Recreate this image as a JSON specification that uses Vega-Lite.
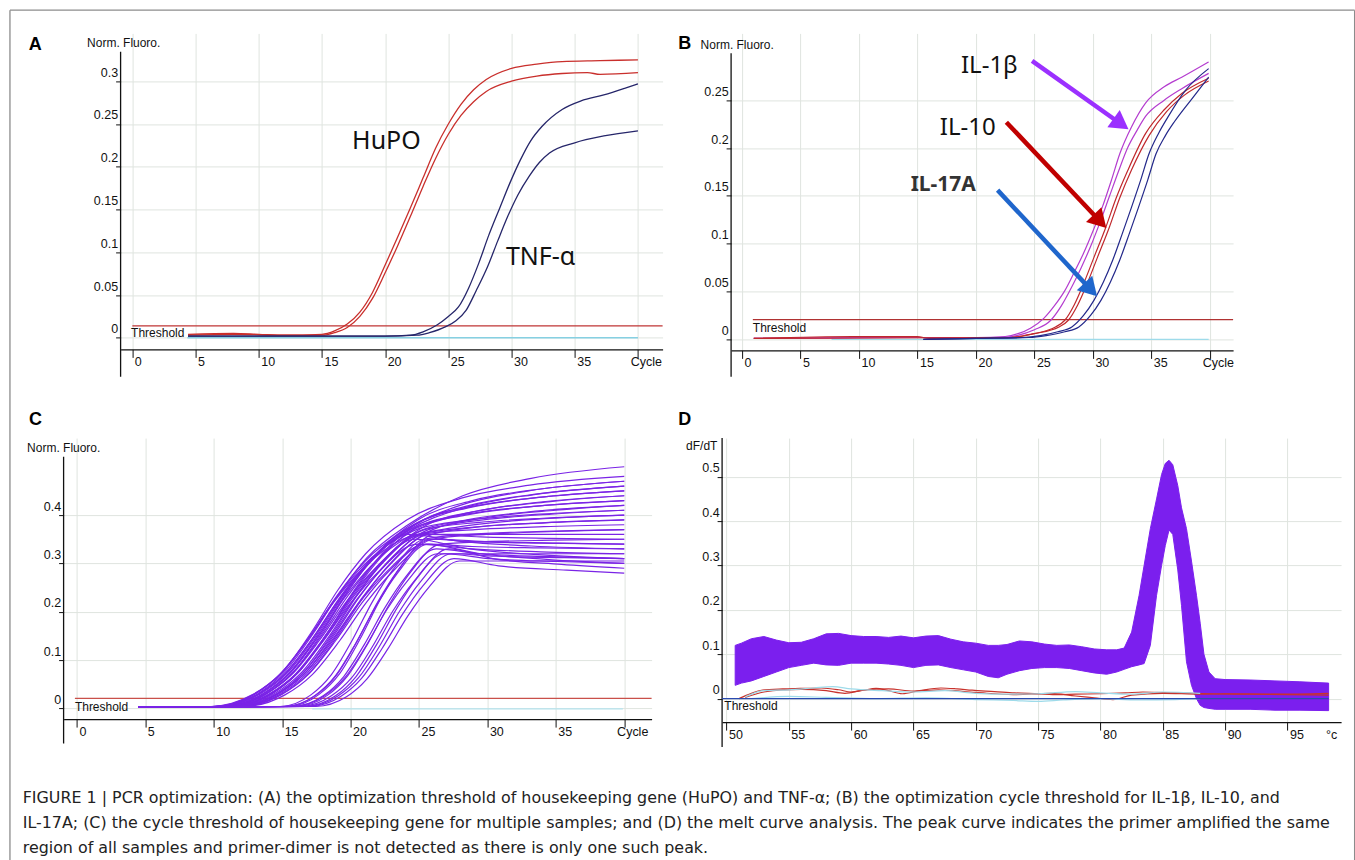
{
"$schema": "https://vega.github.io/schema/vega-lite/v6.json",
"background": "white",
"padding": {"left": 8.6, "top": 9.4, "right": 0, "bottom": 0},
"autosize": {"type": "pad"},
"config": {
  "view": {"stroke": null},
  "axis": {"labelFont": "Liberation Sans", "labelFontSize": 12.5, "labelColor": "#111", "gridColor": "#dfe4df", "gridWidth": 1, "tickColor": "#111", "domainColor": "#111", "titleFont": "Liberation Sans", "titleFontWeight": "normal", "titleFontSize": 12, "titleColor": "#111", "labelFlush": false, "labelOverlap": false},
  "axisX": {"grid": true, "tickSize": 8, "labelBaseline": "top", "labelPadding": -2, "domainWidth": 1.3},
  "axisY": {"grid": true, "domain": false, "tickSize": 5, "labelBaseline": "bottom", "labelPadding": -2, "labelOffset": -2, "titleAngle": 0, "titleAlign": "left", "titleBaseline": "top"},
  "text": {"font": "Liberation Sans"}
},
"bounds": "flush",
"spacing": 404.7,
"vconcat": [
{"bounds": "flush", "spacing": 0, "hconcat": [
  {"width": 57, "height": 20, "data": {"values": [{"x": 0}]}, "mark": {"type": "point", "opacity": 0}},
  {"bounds": "flush", "spacing": 68.5, "hconcat": [
   {
    "width": 542, "height": 316,
    "resolve": {"scale": {"color": "independent"}},
    "encoding": {
      "x": {"field": "x", "type": "quantitative", "scale": {"domain": [-0.93, 41.95], "nice": false, "zero": false},
            "axis": {"values": [0,5,10,15,20,25,30,35,40], "format": "d", "title": null, "labelExpr": "datum.value == 40 ? 'Cycle' : datum.label", "labelAlign": {"condition": {"test": "datum.value == 40", "value": "center"}, "value": "left"}, "labelOffset": {"condition": {"test": "datum.value == 40", "value": 8}, "value": 2}}},
      "y": {"field": "y", "type": "quantitative", "scale": {"domain": [-0.0136, 0.3559], "nice": false, "zero": false},
            "axis": {"values": [0,0.05,0.1,0.15,0.2,0.25,0.3], "format": "~g", "title": "Norm. Fluoro.", "titleX": -34, "titleY": 4}}
    },
    "layer": [
      {"data": {"values": [
         {"k": "frame", "x": -9.684, "x2": 96.7, "y": 0.3831, "y2": 0.3831},
         {"k": "frame", "x": -9.684, "x2": -9.684, "y": 0.3831, "y2": -0.634},
         {"k": "frame", "x": 96.7, "x2": 96.7, "y": 0.3831, "y2": -0.634},
         {"k": "axis", "x": -0.93, "x2": -0.93, "y": 0.3345, "y2": -0.0456},
         {"k": "thr", "x": 0, "x2": 41.95, "y": 0.014, "y2": 0.014},
         {"k": "base", "x": 4.35, "x2": 40, "y": 0, "y2": 0}]},
       "mark": {"type": "rule", "strokeWidth": 1.3},
       "encoding": {"x2": {"field": "x2"}, "y2": {"field": "y2"},
         "color": {"field": "k", "type": "nominal", "scale": {"domain": ["frame","axis","thr","base"], "range": ["#8c8c8c","#111111","#bf3535","#86d0e2"]}, "legend": null}}},
      {"data": {"values": [
         {"s":"h1","x":4.4,"y":0.004},{"s":"h1","x":8,"y":0.005},{"s":"h1","x":10,"y":0.004},{"s":"h1","x":12,"y":0.003},{"s":"h1","x":15,"y":0.004},{"s":"h1","x":16,"y":0.008},{"s":"h1","x":17,"y":0.016},{"s":"h1","x":18,"y":0.03},{"s":"h1","x":19,"y":0.053},{"s":"h1","x":20,"y":0.085},{"s":"h1","x":21,"y":0.118},{"s":"h1","x":22,"y":0.152},{"s":"h1","x":23,"y":0.187},{"s":"h1","x":24,"y":0.222},{"s":"h1","x":25,"y":0.25},{"s":"h1","x":26,"y":0.273},{"s":"h1","x":27,"y":0.29},{"s":"h1","x":28,"y":0.302},{"s":"h1","x":30,"y":0.315},{"s":"h1","x":32,"y":0.32},{"s":"h1","x":34,"y":0.323},{"s":"h1","x":37,"y":0.324},{"s":"h1","x":40,"y":0.325},
         {"s":"h2","x":4.4,"y":0.003},{"s":"h2","x":8,"y":0.004},{"s":"h2","x":12,"y":0.003},{"s":"h2","x":15,"y":0.003},{"s":"h2","x":16,"y":0.006},{"s":"h2","x":17,"y":0.012},{"s":"h2","x":18,"y":0.025},{"s":"h2","x":19,"y":0.046},{"s":"h2","x":20,"y":0.076},{"s":"h2","x":21,"y":0.108},{"s":"h2","x":22,"y":0.142},{"s":"h2","x":23,"y":0.177},{"s":"h2","x":24,"y":0.21},{"s":"h2","x":25,"y":0.238},{"s":"h2","x":26,"y":0.26},{"s":"h2","x":27,"y":0.276},{"s":"h2","x":28,"y":0.288},{"s":"h2","x":30,"y":0.3},{"s":"h2","x":32,"y":0.306},{"s":"h2","x":34,"y":0.309},{"s":"h2","x":36,"y":0.31},{"s":"h2","x":37,"y":0.308},{"s":"h2","x":40,"y":0.31},
         {"s":"t1","x":4.4,"y":0.002},{"s":"t1","x":10,"y":0.002},{"s":"t1","x":15,"y":0.002},{"s":"t1","x":20,"y":0.002},{"s":"t1","x":22,"y":0.003},{"s":"t1","x":23,"y":0.007},{"s":"t1","x":24.1,"y":0.015},{"s":"t1","x":25,"y":0.025},{"s":"t1","x":25.8,"y":0.036},{"s":"t1","x":26.6,"y":0.058},{"s":"t1","x":27.4,"y":0.087},{"s":"t1","x":28.2,"y":0.12},{"s":"t1","x":29.1,"y":0.153},{"s":"t1","x":29.9,"y":0.182},{"s":"t1","x":30.7,"y":0.208},{"s":"t1","x":31.5,"y":0.23},{"s":"t1","x":32.4,"y":0.247},{"s":"t1","x":34,"y":0.267},{"s":"t1","x":35.5,"y":0.277},{"s":"t1","x":37.3,"y":0.284},{"s":"t1","x":39,"y":0.292},{"s":"t1","x":40,"y":0.297},
         {"s":"t2","x":4.4,"y":0.002},{"s":"t2","x":10,"y":0.002},{"s":"t2","x":15,"y":0.002},{"s":"t2","x":20,"y":0.002},{"s":"t2","x":22.5,"y":0.003},{"s":"t2","x":23.5,"y":0.006},{"s":"t2","x":24.8,"y":0.013},{"s":"t2","x":25.6,"y":0.02},{"s":"t2","x":26.4,"y":0.032},{"s":"t2","x":27.2,"y":0.055},{"s":"t2","x":28.1,"y":0.083},{"s":"t2","x":28.9,"y":0.113},{"s":"t2","x":29.7,"y":0.142},{"s":"t2","x":30.5,"y":0.167},{"s":"t2","x":31.4,"y":0.189},{"s":"t2","x":32.2,"y":0.205},{"s":"t2","x":33,"y":0.216},{"s":"t2","x":35,"y":0.228},{"s":"t2","x":37.3,"y":0.236},{"s":"t2","x":40,"y":0.242}]},
       "mark": {"type": "line", "strokeWidth": 1.3, "interpolate": "monotone"},
       "encoding": {"detail": {"field": "s"}, "color": {"field": "s", "type": "nominal", "scale": {"domain": ["h1","h2","t1","t2"], "range": ["#c92f2c","#c92f2c","#26266a","#26266a"]}, "legend": null}}},
      {"data": {"values": [{"t": "HuPO", "x": 20.1, "y": 0.23}, {"t": "TNF-α", "x": 32.3, "y": 0.094}]},
       "mark": {"type": "text", "font": "Noto Sans", "fontSize": 25, "color": "#111", "align": "center", "baseline": "middle"},
       "encoding": {"text": {"field": "t"}}},
      {"data": {"values": [{"t": "Threshold", "x": -0.1, "y": 0.005}]},
       "mark": {"type": "text", "fontSize": 12, "color": "#111", "align": "left", "baseline": "middle"},
       "encoding": {"text": {"field": "t"}}},
      {"data": {"values": [{"t": "A", "x": -8.2, "y": 0.342}]},
       "mark": {"type": "text", "fontSize": 18, "fontWeight": "bold", "color": "#000", "align": "left", "baseline": "middle"},
       "encoding": {"text": {"field": "t"}}}
    ]
   },
   {
    "width": 502, "height": 317,
    "resolve": {"scale": {"color": "independent"}},
    "encoding": {
      "x": {"field": "x", "type": "quantitative", "scale": {"domain": [-0.94, 41.99], "nice": false, "zero": false},
            "axis": {"values": [0,5,10,15,20,25,30,35,40], "format": "d", "title": null, "labelExpr": "datum.value == 40 ? 'Cycle' : datum.label", "labelAlign": {"condition": {"test": "datum.value == 40", "value": "center"}, "value": "left"}, "labelOffset": {"condition": {"test": "datum.value == 40", "value": 8}, "value": 2}}},
      "y": {"field": "y", "type": "quantitative", "scale": {"domain": [-0.0115, 0.3198], "nice": false, "zero": false},
            "axis": {"values": [0,0.05,0.1,0.15,0.2,0.25], "format": "~g", "title": "Norm. Fluoro.", "titleX": -31, "titleY": 6}}
    },
    "layer": [
      {"data": {"values": [
         {"k": "axis", "x": -0.94, "x2": -0.94, "y": 0.299, "y2": -0.039},
         {"k": "thr", "x": 0.92, "x2": 41.99, "y": 0.0206, "y2": 0.0206},
         {"k": "base", "x": 7.65, "x2": 39.9, "y": 0, "y2": 0}]},
       "mark": {"type": "rule", "strokeWidth": 1.3},
       "encoding": {"x2": {"field": "x2"}, "y2": {"field": "y2"},
         "color": {"field": "k", "type": "nominal", "scale": {"domain": ["axis","thr","base"], "range": ["#111111","#b03232","#9edbea"]}, "legend": null}}},
      {"data": {"values": [
         {"s":"b1","x":1,"y":0.001},{"s":"b1","x":10,"y":0.002},{"s":"b1","x":15,"y":0.002},{"s":"b1","x":20,"y":0.002},{"s":"b1","x":22.5,"y":0.003},{"s":"b1","x":23.6,"y":0.006},{"s":"b1","x":24.7,"y":0.012},{"s":"b1","x":25.8,"y":0.022},{"s":"b1","x":26.7,"y":0.035},{"s":"b1","x":27.6,"y":0.051},{"s":"b1","x":28.4,"y":0.07},{"s":"b1","x":29.2,"y":0.09},{"s":"b1","x":30,"y":0.113},{"s":"b1","x":30.8,"y":0.138},{"s":"b1","x":31.6,"y":0.167},{"s":"b1","x":32.3,"y":0.194},{"s":"b1","x":33.3,"y":0.222},{"s":"b1","x":34.5,"y":0.247},{"s":"b1","x":36.1,"y":0.264},{"s":"b1","x":37.6,"y":0.274},{"s":"b1","x":39.9,"y":0.29},
         {"s":"b2","x":1,"y":0.001},{"s":"b2","x":15,"y":0.002},{"s":"b2","x":22,"y":0.002},{"s":"b2","x":23.5,"y":0.004},{"s":"b2","x":25,"y":0.01},{"s":"b2","x":26.4,"y":0.02},{"s":"b2","x":27.3,"y":0.035},{"s":"b2","x":28.2,"y":0.055},{"s":"b2","x":29,"y":0.075},{"s":"b2","x":29.8,"y":0.097},{"s":"b2","x":30.6,"y":0.122},{"s":"b2","x":31.4,"y":0.149},{"s":"b2","x":32.2,"y":0.176},{"s":"b2","x":33,"y":0.201},{"s":"b2","x":33.8,"y":0.219},{"s":"b2","x":34.5,"y":0.233},{"s":"b2","x":36.1,"y":0.25},{"s":"b2","x":37.6,"y":0.262},{"s":"b2","x":39.9,"y":0.278},
         {"s":"r1","x":1,"y":0.001},{"s":"r1","x":9.5,"y":0.003},{"s":"r1","x":15,"y":0.003},{"s":"r1","x":16,"y":0.001},{"s":"r1","x":23,"y":0.002},{"s":"r1","x":24.5,"y":0.005},{"s":"r1","x":26,"y":0.009},{"s":"r1","x":26.8,"y":0.013},{"s":"r1","x":27.6,"y":0.02},{"s":"r1","x":28.4,"y":0.036},{"s":"r1","x":29.2,"y":0.058},{"s":"r1","x":30.1,"y":0.086},{"s":"r1","x":31.1,"y":0.117},{"s":"r1","x":32,"y":0.148},{"s":"r1","x":33,"y":0.177},{"s":"r1","x":34.5,"y":0.215},{"s":"r1","x":36.1,"y":0.24},{"s":"r1","x":37.6,"y":0.257},{"s":"r1","x":39.9,"y":0.273},
         {"s":"r2","x":1,"y":0.001},{"s":"r2","x":23,"y":0.002},{"s":"r2","x":25,"y":0.006},{"s":"r2","x":27.1,"y":0.013},{"s":"r2","x":27.9,"y":0.02},{"s":"r2","x":28.7,"y":0.036},{"s":"r2","x":29.5,"y":0.058},{"s":"r2","x":30.4,"y":0.086},{"s":"r2","x":31.4,"y":0.117},{"s":"r2","x":32.3,"y":0.148},{"s":"r2","x":33.3,"y":0.177},{"s":"r2","x":34.8,"y":0.213},{"s":"r2","x":36.3,"y":0.238},{"s":"r2","x":37.8,"y":0.255},{"s":"r2","x":39.9,"y":0.27},
         {"s":"n1","x":15.5,"y":0},{"s":"n1","x":20,"y":0.001},{"s":"n1","x":24,"y":0.002},{"s":"n1","x":25.5,"y":0.004},{"s":"n1","x":27,"y":0.008},{"s":"n1","x":28.2,"y":0.013},{"s":"n1","x":29.2,"y":0.025},{"s":"n1","x":30.1,"y":0.041},{"s":"n1","x":30.9,"y":0.06},{"s":"n1","x":31.7,"y":0.083},{"s":"n1","x":32.5,"y":0.11},{"s":"n1","x":33.3,"y":0.138},{"s":"n1","x":34.1,"y":0.167},{"s":"n1","x":34.8,"y":0.194},{"s":"n1","x":35.6,"y":0.215},{"s":"n1","x":36.4,"y":0.232},{"s":"n1","x":37.9,"y":0.26},{"s":"n1","x":39.9,"y":0.283},
         {"s":"n2","x":15.5,"y":0},{"s":"n2","x":20,"y":0.001},{"s":"n2","x":24.5,"y":0.002},{"s":"n2","x":26,"y":0.004},{"s":"n2","x":27.6,"y":0.008},{"s":"n2","x":28.8,"y":0.013},{"s":"n2","x":29.8,"y":0.025},{"s":"n2","x":30.7,"y":0.041},{"s":"n2","x":31.5,"y":0.06},{"s":"n2","x":32.3,"y":0.083},{"s":"n2","x":33.1,"y":0.11},{"s":"n2","x":33.9,"y":0.138},{"s":"n2","x":34.7,"y":0.167},{"s":"n2","x":35.4,"y":0.194},{"s":"n2","x":36.2,"y":0.213},{"s":"n2","x":37,"y":0.228},{"s":"n2","x":38.5,"y":0.252},{"s":"n2","x":39.9,"y":0.274}]},
       "mark": {"type": "line", "strokeWidth": 1.2, "interpolate": "monotone"},
       "encoding": {"detail": {"field": "s"}, "color": {"field": "s", "type": "nominal", "scale": {"domain": ["b1","b2","r1","r2","n1","n2"], "range": ["#b43ccf","#b43ccf","#c0282c","#c0282c","#23288a","#23288a"]}, "legend": null}}},
      {"data": {"values": [
         {"k": "b", "x": 24.8, "y": 0.291, "x2": 32.405, "y2": 0.2251},
         {"k": "r", "x": 22.6, "y": 0.227, "x2": 30.61, "y2": 0.1234},
         {"k": "n", "x": 21.85, "y": 0.156, "x2": 29.82, "y2": 0.052}]},
       "mark": {"type": "rule", "strokeWidth": 4.5},
       "encoding": {"x2": {"field": "x2"}, "y2": {"field": "y2"},
         "color": {"field": "k", "type": "nominal", "scale": {"domain": ["b","r","n"], "range": ["#9b30ff","#c00000","#1f66cc"]}, "legend": null}}},
      {"data": {"values": [{"x": 32.405, "y": 0.2251}]},
       "mark": {"type": "point", "shape": "triangle-right", "filled": true, "size": 450, "angle": 35.6, "color": "#9b30ff", "opacity": 1}},
      {"data": {"values": [{"x": 30.61, "y": 0.1234}]},
       "mark": {"type": "point", "shape": "triangle-right", "filled": true, "size": 450, "angle": 46.7, "color": "#c00000", "opacity": 1}},
      {"data": {"values": [{"x": 29.82, "y": 0.052}]},
       "mark": {"type": "point", "shape": "triangle-right", "filled": true, "size": 450, "angle": 46.9, "color": "#1f66cc", "opacity": 1}},
      {"data": {"values": [{"t": "IL-1β", "x": 21.15, "y": 0.286}, {"t": "IL-10", "x": 19.3, "y": 0.2214}]},
       "mark": {"type": "text", "font": "Noto Sans", "fontSize": 24, "color": "#111", "align": "center", "baseline": "middle"},
       "encoding": {"text": {"field": "t"}}},
      {"data": {"values": [{"t": "IL-17A", "x": 17.2, "y": 0.161}]},
       "mark": {"type": "text", "font": "Noto Sans", "fontSize": 21, "fontWeight": "bold", "color": "#333", "align": "center", "baseline": "middle"},
       "encoding": {"text": {"field": "t"}}},
      {"data": {"values": [{"t": "Threshold", "x": 0.92, "y": 0.0122}]},
       "mark": {"type": "text", "fontSize": 12, "color": "#111", "align": "left", "baseline": "middle"},
       "encoding": {"text": {"field": "t"}}},
      {"data": {"values": [{"t": "B", "x": -5.47, "y": 0.309}]},
       "mark": {"type": "text", "fontSize": 18, "fontWeight": "bold", "color": "#000", "align": "left", "baseline": "middle"},
       "encoding": {"text": {"field": "t"}}}
    ]
   }
  ]}
]},
{"bounds": "flush", "spacing": 70.5, "hconcat": [
  {
    "width": 588, "height": 281,
    "encoding": {
      "x": {"field": "x", "type": "quantitative", "scale": {"domain": [-0.975, 42.0], "nice": false, "zero": false},
            "axis": {"values": [0,5,10,15,20,25,30,35,40], "format": "d", "title": null, "labelExpr": "datum.value == 40 ? 'Cycle' : datum.label", "labelAlign": {"condition": {"test": "datum.value == 40", "value": "center"}, "value": "left"}, "labelOffset": {"condition": {"test": "datum.value == 40", "value": 8}, "value": 2}}},
      "y": {"field": "y", "type": "quantitative", "scale": {"domain": [-0.0221, 0.5593], "nice": false, "zero": false},
            "axis": {"values": [0,0.1,0.2,0.3,0.4], "format": "~g", "title": "Norm. Fluoro.", "titleX": -37, "titleY": 4}}
    },
    "resolve": {"scale": {"color": "independent"}},
    "layer": [
      {"data": {"values": [
         {"k": "axis", "x": -0.975, "x2": -0.975, "y": 0.5206, "y2": -0.0724},
         {"k": "thr", "x": -0.15, "x2": 42.0, "y": 0.0207, "y2": 0.0207},
         {"k": "base", "x": 17.2, "x2": 39.9, "y": -0.001, "y2": -0.001}]},
       "mark": {"type": "rule", "strokeWidth": 1.3},
       "encoding": {"x2": {"field": "x2"}, "y2": {"field": "y2"},
         "color": {"field": "k", "type": "nominal", "scale": {"domain": ["axis","thr","base"], "range": ["#111111","#c9504a","#b5e3ee"]}, "legend": null}}},
      {"data": {"values": [
{"s":"c1","x":4.5,"y":0.003},{"s":"c1","x":9.9,"y":0.004},{"s":"c1","x":12.9,"y":0.029},{"s":"c1","x":14.9,"y":0.072},{"s":"c1","x":16.9,"y":0.144},{"s":"c1","x":18.9,"y":0.227},{"s":"c1","x":20.9,"y":0.295},{"s":"c1","x":23.9,"y":0.36},{"s":"c1","x":27.9,"y":0.4},{"s":"c1","x":32.9,"y":0.424},{"s":"c1","x":40,"y":0.44},
{"s":"c2","x":4.5,"y":0.003},{"s":"c2","x":10,"y":0.004},{"s":"c2","x":13,"y":0.03},{"s":"c2","x":15,"y":0.074},{"s":"c2","x":17,"y":0.148},{"s":"c2","x":19,"y":0.233},{"s":"c2","x":21,"y":0.303},{"s":"c2","x":24,"y":0.37},{"s":"c2","x":28,"y":0.42},{"s":"c2","x":33,"y":0.45},{"s":"c2","x":40,"y":0.47},
{"s":"c3","x":4.5,"y":0.003},{"s":"c3","x":10.2,"y":0.004},{"s":"c3","x":13.2,"y":0.03},{"s":"c3","x":15.2,"y":0.076},{"s":"c3","x":17.2,"y":0.152},{"s":"c3","x":19.2,"y":0.239},{"s":"c3","x":21.2,"y":0.312},{"s":"c3","x":24.2,"y":0.38},{"s":"c3","x":28.2,"y":0.44},{"s":"c3","x":33.2,"y":0.476},{"s":"c3","x":40,"y":0.5},
{"s":"c4","x":4.5,"y":0.003},{"s":"c4","x":10.3,"y":0.004},{"s":"c4","x":13.3,"y":0.03},{"s":"c4","x":15.3,"y":0.074},{"s":"c4","x":17.3,"y":0.148},{"s":"c4","x":19.3,"y":0.233},{"s":"c4","x":21.3,"y":0.303},{"s":"c4","x":24.3,"y":0.37},{"s":"c4","x":28.3,"y":0.415},{"s":"c4","x":33.3,"y":0.442},{"s":"c4","x":40,"y":0.46},
{"s":"c5","x":4.5,"y":0.003},{"s":"c5","x":10.5,"y":0.004},{"s":"c5","x":13.5,"y":0.029},{"s":"c5","x":15.5,"y":0.072},{"s":"c5","x":17.5,"y":0.144},{"s":"c5","x":19.5,"y":0.227},{"s":"c5","x":21.5,"y":0.295},{"s":"c5","x":24.5,"y":0.36},{"s":"c5","x":28.5,"y":0.39},{"s":"c5","x":33.5,"y":0.408},{"s":"c5","x":40,"y":0.42},
{"s":"c6","x":4.5,"y":0.003},{"s":"c6","x":10.6,"y":0.004},{"s":"c6","x":13.6,"y":0.03},{"s":"c6","x":15.6,"y":0.076},{"s":"c6","x":17.6,"y":0.152},{"s":"c6","x":19.6,"y":0.239},{"s":"c6","x":21.6,"y":0.312},{"s":"c6","x":24.6,"y":0.38},{"s":"c6","x":28.6,"y":0.415},{"s":"c6","x":33.6,"y":0.436},{"s":"c6","x":40,"y":0.45},
{"s":"c7","x":4.5,"y":0.003},{"s":"c7","x":10.8,"y":0.004},{"s":"c7","x":13.8,"y":0.03},{"s":"c7","x":15.8,"y":0.074},{"s":"c7","x":17.8,"y":0.148},{"s":"c7","x":19.8,"y":0.233},{"s":"c7","x":21.8,"y":0.303},{"s":"c7","x":24.8,"y":0.37},{"s":"c7","x":28.8,"y":0.39},{"s":"c7","x":33.8,"y":0.402},{"s":"c7","x":40,"y":0.41},
{"s":"c8","x":4.5,"y":0.003},{"s":"c8","x":10.9,"y":0.004},{"s":"c8","x":13.9,"y":0.031},{"s":"c8","x":15.9,"y":0.078},{"s":"c8","x":17.9,"y":0.156},{"s":"c8","x":19.9,"y":0.246},{"s":"c8","x":21.9,"y":0.32},{"s":"c8","x":24.9,"y":0.39},{"s":"c8","x":28.9,"y":0.43},{"s":"c8","x":33.9,"y":0.454},{"s":"c8","x":40,"y":0.47},
{"s":"c9","x":4.5,"y":0.003},{"s":"c9","x":11.1,"y":0.004},{"s":"c9","x":14.1,"y":0.029},{"s":"c9","x":16.1,"y":0.072},{"s":"c9","x":18.1,"y":0.144},{"s":"c9","x":20.1,"y":0.227},{"s":"c9","x":22.1,"y":0.295},{"s":"c9","x":25.1,"y":0.36},{"s":"c9","x":29.1,"y":0.37},{"s":"c9","x":34.1,"y":0.376},{"s":"c9","x":40,"y":0.38},
{"s":"c10","x":4.5,"y":0.003},{"s":"c10","x":11.2,"y":0.004},{"s":"c10","x":14.2,"y":0.03},{"s":"c10","x":16.2,"y":0.076},{"s":"c10","x":18.2,"y":0.152},{"s":"c10","x":20.2,"y":0.239},{"s":"c10","x":22.2,"y":0.312},{"s":"c10","x":25.2,"y":0.38},{"s":"c10","x":29.2,"y":0.405},{"s":"c10","x":34.2,"y":0.42},{"s":"c10","x":40,"y":0.43},
{"s":"c11","x":4.5,"y":0.003},{"s":"c11","x":11.4,"y":0.004},{"s":"c11","x":14.4,"y":0.03},{"s":"c11","x":16.4,"y":0.074},{"s":"c11","x":18.4,"y":0.148},{"s":"c11","x":20.4,"y":0.233},{"s":"c11","x":22.4,"y":0.303},{"s":"c11","x":25.4,"y":0.37},{"s":"c11","x":29.4,"y":0.385},{"s":"c11","x":34.4,"y":0.394},{"s":"c11","x":40,"y":0.4},
{"s":"c12","x":4.5,"y":0.003},{"s":"c12","x":11.6,"y":0.004},{"s":"c12","x":14.6,"y":0.03},{"s":"c12","x":16.6,"y":0.076},{"s":"c12","x":18.6,"y":0.152},{"s":"c12","x":20.6,"y":0.239},{"s":"c12","x":22.6,"y":0.312},{"s":"c12","x":25.6,"y":0.38},{"s":"c12","x":29.6,"y":0.41},{"s":"c12","x":34.6,"y":0.428},{"s":"c12","x":40,"y":0.44},
{"s":"c13","x":4.5,"y":0.003},{"s":"c13","x":11.8,"y":0.004},{"s":"c13","x":14.8,"y":0.029},{"s":"c13","x":16.8,"y":0.072},{"s":"c13","x":18.8,"y":0.144},{"s":"c13","x":20.8,"y":0.227},{"s":"c13","x":22.8,"y":0.295},{"s":"c13","x":25.8,"y":0.36},{"s":"c13","x":29.8,"y":0.36},{"s":"c13","x":34.8,"y":0.36},{"s":"c13","x":40,"y":0.36},
{"s":"c14","x":4.5,"y":0.003},{"s":"c14","x":12,"y":0.004},{"s":"c14","x":15,"y":0.03},{"s":"c14","x":17,"y":0.074},{"s":"c14","x":19,"y":0.148},{"s":"c14","x":21,"y":0.233},{"s":"c14","x":23,"y":0.303},{"s":"c14","x":26,"y":0.37},{"s":"c14","x":30,"y":0.395},{"s":"c14","x":35,"y":0.41},{"s":"c14","x":40,"y":0.42},
{"s":"c15","x":4.5,"y":0.003},{"s":"c15","x":12.2,"y":0.004},{"s":"c15","x":15.2,"y":0.028},{"s":"c15","x":17.2,"y":0.07},{"s":"c15","x":19.2,"y":0.14},{"s":"c15","x":21.2,"y":0.221},{"s":"c15","x":23.2,"y":0.287},{"s":"c15","x":26.2,"y":0.35},{"s":"c15","x":30.2,"y":0.345},{"s":"c15","x":35.2,"y":0.342},{"s":"c15","x":40,"y":0.34},
{"s":"c16","x":4.5,"y":0.003},{"s":"c16","x":10.7,"y":0.004},{"s":"c16","x":13.7,"y":0.028},{"s":"c16","x":15.7,"y":0.07},{"s":"c16","x":17.7,"y":0.14},{"s":"c16","x":19.7,"y":0.221},{"s":"c16","x":21.7,"y":0.287},{"s":"c16","x":24.7,"y":0.35},{"s":"c16","x":28.7,"y":0.33},{"s":"c16","x":33.7,"y":0.318},{"s":"c16","x":40,"y":0.31},
{"s":"c17","x":4.5,"y":0.003},{"s":"c17","x":11.5,"y":0.004},{"s":"c17","x":14.5,"y":0.027},{"s":"c17","x":16.5,"y":0.068},{"s":"c17","x":18.5,"y":0.136},{"s":"c17","x":20.5,"y":0.214},{"s":"c17","x":22.5,"y":0.279},{"s":"c17","x":25.5,"y":0.34},{"s":"c17","x":29.5,"y":0.32},{"s":"c17","x":34.5,"y":0.308},{"s":"c17","x":40,"y":0.3},
{"s":"c18","x":4.5,"y":0.003},{"s":"c18","x":14.85,"y":0.004},{"s":"c18","x":17.1,"y":0.028},{"s":"c18","x":18.6,"y":0.07},{"s":"c18","x":20.1,"y":0.14},{"s":"c18","x":21.6,"y":0.221},{"s":"c18","x":23.1,"y":0.287},{"s":"c18","x":25.35,"y":0.35},{"s":"c18","x":28.6,"y":0.36},{"s":"c18","x":33.6,"y":0.366},{"s":"c18","x":40,"y":0.37},
{"s":"c19","x":4.5,"y":0.003},{"s":"c19","x":15.15,"y":0.004},{"s":"c19","x":17.4,"y":0.027},{"s":"c19","x":18.9,"y":0.068},{"s":"c19","x":20.4,"y":0.136},{"s":"c19","x":21.9,"y":0.214},{"s":"c19","x":23.4,"y":0.279},{"s":"c19","x":25.65,"y":0.34},{"s":"c19","x":28.9,"y":0.335},{"s":"c19","x":33.9,"y":0.332},{"s":"c19","x":40,"y":0.33},
{"s":"c20","x":4.5,"y":0.003},{"s":"c20","x":15.45,"y":0.004},{"s":"c20","x":17.7,"y":0.029},{"s":"c20","x":19.2,"y":0.072},{"s":"c20","x":20.7,"y":0.144},{"s":"c20","x":22.2,"y":0.227},{"s":"c20","x":23.7,"y":0.295},{"s":"c20","x":25.95,"y":0.36},{"s":"c20","x":29.2,"y":0.375},{"s":"c20","x":34.2,"y":0.384},{"s":"c20","x":40,"y":0.39},
{"s":"c21","x":4.5,"y":0.003},{"s":"c21","x":15.75,"y":0.004},{"s":"c21","x":18,"y":0.026},{"s":"c21","x":19.5,"y":0.066},{"s":"c21","x":21,"y":0.132},{"s":"c21","x":22.5,"y":0.208},{"s":"c21","x":24,"y":0.271},{"s":"c21","x":26.25,"y":0.33},{"s":"c21","x":29.5,"y":0.32},{"s":"c21","x":34.5,"y":0.314},{"s":"c21","x":40,"y":0.31},
{"s":"c22","x":4.5,"y":0.003},{"s":"c22","x":16.05,"y":0.004},{"s":"c22","x":18.3,"y":0.027},{"s":"c22","x":19.8,"y":0.068},{"s":"c22","x":21.3,"y":0.136},{"s":"c22","x":22.8,"y":0.214},{"s":"c22","x":24.3,"y":0.279},{"s":"c22","x":26.55,"y":0.34},{"s":"c22","x":29.8,"y":0.345},{"s":"c22","x":34.8,"y":0.348},{"s":"c22","x":40,"y":0.35},
{"s":"c23","x":4.5,"y":0.003},{"s":"c23","x":16.35,"y":0.004},{"s":"c23","x":18.6,"y":0.026},{"s":"c23","x":20.1,"y":0.064},{"s":"c23","x":21.6,"y":0.128},{"s":"c23","x":23.1,"y":0.202},{"s":"c23","x":24.6,"y":0.262},{"s":"c23","x":26.85,"y":0.32},{"s":"c23","x":30.1,"y":0.31},{"s":"c23","x":35.1,"y":0.304},{"s":"c23","x":40,"y":0.3},
{"s":"c24","x":4.5,"y":0.003},{"s":"c24","x":16.65,"y":0.004},{"s":"c24","x":18.9,"y":0.026},{"s":"c24","x":20.4,"y":0.066},{"s":"c24","x":21.9,"y":0.132},{"s":"c24","x":23.4,"y":0.208},{"s":"c24","x":24.9,"y":0.271},{"s":"c24","x":27.15,"y":0.33},{"s":"c24","x":30.4,"y":0.31},{"s":"c24","x":35.4,"y":0.298},{"s":"c24","x":40,"y":0.29},
{"s":"c25","x":4.5,"y":0.003},{"s":"c25","x":17.05,"y":0.004},{"s":"c25","x":19.3,"y":0.025},{"s":"c25","x":20.8,"y":0.062},{"s":"c25","x":22.3,"y":0.124},{"s":"c25","x":23.8,"y":0.195},{"s":"c25","x":25.3,"y":0.254},{"s":"c25","x":27.55,"y":0.31},{"s":"c25","x":30.8,"y":0.295},{"s":"c25","x":35.8,"y":0.286},{"s":"c25","x":40,"y":0.28},
{"s":"c26","x":4.5,"y":0.003},{"s":"c26","x":17.45,"y":0.004},{"s":"c26","x":19.7,"y":0.024},{"s":"c26","x":21.2,"y":0.061},{"s":"c26","x":22.7,"y":0.122},{"s":"c26","x":24.2,"y":0.192},{"s":"c26","x":25.7,"y":0.25},{"s":"c26","x":27.95,"y":0.305},{"s":"c26","x":31.2,"y":0.305},{"s":"c26","x":36.2,"y":0.305},{"s":"c26","x":40,"y":0.305},
{"s":"c27","x":4.5,"y":0.003},{"s":"c27","x":10.1,"y":0.004},{"s":"c27","x":13.1,"y":0.031},{"s":"c27","x":15.1,"y":0.078},{"s":"c27","x":17.1,"y":0.156},{"s":"c27","x":19.1,"y":0.246},{"s":"c27","x":21.1,"y":0.32},{"s":"c27","x":24.1,"y":0.39},{"s":"c27","x":28.1,"y":0.435},{"s":"c27","x":33.1,"y":0.462},{"s":"c27","x":40,"y":0.48},
{"s":"c28","x":4.5,"y":0.003},{"s":"c28","x":10.4,"y":0.004},{"s":"c28","x":13.4,"y":0.03},{"s":"c28","x":15.4,"y":0.074},{"s":"c28","x":17.4,"y":0.148},{"s":"c28","x":19.4,"y":0.233},{"s":"c28","x":21.4,"y":0.303},{"s":"c28","x":24.4,"y":0.37},{"s":"c28","x":28.4,"y":0.4},{"s":"c28","x":33.4,"y":0.418},{"s":"c28","x":40,"y":0.43},
{"s":"c29","x":4.5,"y":0.003},{"s":"c29","x":10.7,"y":0.004},{"s":"c29","x":13.7,"y":0.03},{"s":"c29","x":15.7,"y":0.076},{"s":"c29","x":17.7,"y":0.152},{"s":"c29","x":19.7,"y":0.239},{"s":"c29","x":21.7,"y":0.312},{"s":"c29","x":24.7,"y":0.38},{"s":"c29","x":28.7,"y":0.42},{"s":"c29","x":33.7,"y":0.444},{"s":"c29","x":40,"y":0.46},
{"s":"c30","x":4.5,"y":0.003},{"s":"c30","x":11,"y":0.004},{"s":"c30","x":14,"y":0.029},{"s":"c30","x":16,"y":0.072},{"s":"c30","x":18,"y":0.144},{"s":"c30","x":20,"y":0.227},{"s":"c30","x":22,"y":0.295},{"s":"c30","x":25,"y":0.36},{"s":"c30","x":29,"y":0.375},{"s":"c30","x":34,"y":0.384},{"s":"c30","x":40,"y":0.39},
{"s":"c31","x":4.5,"y":0.003},{"s":"c31","x":11.3,"y":0.004},{"s":"c31","x":14.3,"y":0.031},{"s":"c31","x":16.3,"y":0.078},{"s":"c31","x":18.3,"y":0.156},{"s":"c31","x":20.3,"y":0.246},{"s":"c31","x":22.3,"y":0.32},{"s":"c31","x":25.3,"y":0.39},{"s":"c31","x":29.3,"y":0.42},{"s":"c31","x":34.3,"y":0.438},{"s":"c31","x":40,"y":0.45},
{"s":"c32","x":4.5,"y":0.003},{"s":"c32","x":11.7,"y":0.004},{"s":"c32","x":14.7,"y":0.03},{"s":"c32","x":16.7,"y":0.074},{"s":"c32","x":18.7,"y":0.148},{"s":"c32","x":20.7,"y":0.233},{"s":"c32","x":22.7,"y":0.303},{"s":"c32","x":25.7,"y":0.37},{"s":"c32","x":29.7,"y":0.39},{"s":"c32","x":34.7,"y":0.402},{"s":"c32","x":40,"y":0.41},
{"s":"c33","x":4.5,"y":0.003},{"s":"c33","x":10.2,"y":0.004},{"s":"c33","x":13.2,"y":0.029},{"s":"c33","x":15.2,"y":0.072},{"s":"c33","x":17.2,"y":0.144},{"s":"c33","x":19.2,"y":0.227},{"s":"c33","x":21.2,"y":0.295},{"s":"c33","x":24.2,"y":0.36},{"s":"c33","x":28.2,"y":0.345},{"s":"c33","x":33.2,"y":0.336},{"s":"c33","x":40,"y":0.33},
{"s":"c34","x":4.5,"y":0.003},{"s":"c34","x":11.9,"y":0.004},{"s":"c34","x":14.9,"y":0.028},{"s":"c34","x":16.9,"y":0.07},{"s":"c34","x":18.9,"y":0.14},{"s":"c34","x":20.9,"y":0.221},{"s":"c34","x":22.9,"y":0.287},{"s":"c34","x":25.9,"y":0.35},{"s":"c34","x":29.9,"y":0.36},{"s":"c34","x":34.9,"y":0.366},{"s":"c34","x":40,"y":0.37},
{"s":"c35","x":4.5,"y":0.003},{"s":"c35","x":10.9,"y":0.004},{"s":"c35","x":13.9,"y":0.027},{"s":"c35","x":15.9,"y":0.068},{"s":"c35","x":17.9,"y":0.136},{"s":"c35","x":19.9,"y":0.214},{"s":"c35","x":21.9,"y":0.279},{"s":"c35","x":24.9,"y":0.34},{"s":"c35","x":28.9,"y":0.33},{"s":"c35","x":33.9,"y":0.324},{"s":"c35","x":40,"y":0.32},
{"s":"c36","x":4.5,"y":0.003},{"s":"c36","x":9.8,"y":0.004},{"s":"c36","x":12.8,"y":0.028},{"s":"c36","x":14.8,"y":0.07},{"s":"c36","x":16.8,"y":0.14},{"s":"c36","x":18.8,"y":0.221},{"s":"c36","x":20.8,"y":0.287},{"s":"c36","x":23.8,"y":0.35},{"s":"c36","x":27.8,"y":0.375},{"s":"c36","x":32.8,"y":0.39},{"s":"c36","x":40,"y":0.4},
{"s":"c37","x":4.5,"y":0.003},{"s":"c37","x":11.5,"y":0.004},{"s":"c37","x":14.5,"y":0.029},{"s":"c37","x":16.5,"y":0.072},{"s":"c37","x":18.5,"y":0.144},{"s":"c37","x":20.5,"y":0.227},{"s":"c37","x":22.5,"y":0.295},{"s":"c37","x":25.5,"y":0.36},{"s":"c37","x":29.5,"y":0.355},{"s":"c37","x":34.5,"y":0.352},{"s":"c37","x":40,"y":0.35},
{"s":"c38","x":4.5,"y":0.003},{"s":"c38","x":15.25,"y":0.004},{"s":"c38","x":17.5,"y":0.028},{"s":"c38","x":19,"y":0.07},{"s":"c38","x":20.5,"y":0.14},{"s":"c38","x":22,"y":0.221},{"s":"c38","x":23.5,"y":0.287},{"s":"c38","x":25.75,"y":0.35},{"s":"c38","x":29,"y":0.345},{"s":"c38","x":34,"y":0.342},{"s":"c38","x":40,"y":0.34},
{"s":"c39","x":4.5,"y":0.003},{"s":"c39","x":15.85,"y":0.004},{"s":"c39","x":18.1,"y":0.026},{"s":"c39","x":19.6,"y":0.064},{"s":"c39","x":21.1,"y":0.128},{"s":"c39","x":22.6,"y":0.202},{"s":"c39","x":24.1,"y":0.262},{"s":"c39","x":26.35,"y":0.32},{"s":"c39","x":29.6,"y":0.32},{"s":"c39","x":34.6,"y":0.32},{"s":"c39","x":40,"y":0.32},
{"s":"c40","x":4.5,"y":0.003},{"s":"c40","x":16.85,"y":0.004},{"s":"c40","x":19.1,"y":0.026},{"s":"c40","x":20.6,"y":0.064},{"s":"c40","x":22.1,"y":0.128},{"s":"c40","x":23.6,"y":0.202},{"s":"c40","x":25.1,"y":0.262},{"s":"c40","x":27.35,"y":0.32},{"s":"c40","x":30.6,"y":0.315},{"s":"c40","x":35.6,"y":0.312},{"s":"c40","x":40,"y":0.31}]},
       "mark": {"type": "line", "strokeWidth": 1.2, "interpolate": "monotone", "color": "#7a24e6"},
       "encoding": {"detail": {"field": "s"}}},
      {"data": {"values": [{"t": "Threshold", "x": -0.15, "y": 0.0033}]},
       "mark": {"type": "text", "fontSize": 12, "color": "#111", "align": "left", "baseline": "middle"},
       "encoding": {"text": {"field": "t"}}},
      {"data": {"values": [{"t": "C", "x": -3.5, "y": 0.5965}]},
       "mark": {"type": "text", "fontSize": 18, "fontWeight": "bold", "color": "#000", "align": "left", "baseline": "middle"},
       "encoding": {"text": {"field": "t"}}},
      {"data": {"values": [
         {"t": "FIGURE 1 | PCR optimization: (A) the optimization threshold of housekeeping gene (HuPO) and TNF-α; (B) the optimization cycle threshold for IL-1β, IL-10, and", "x": -3.963, "y": -0.1856},
         {"t": "IL-17A; (C) the cycle threshold of housekeeping gene for multiple samples; and (D) the melt curve analysis. The peak curve indicates the primer amplified the same", "x": -3.963, "y": -0.2373},
         {"t": "region of all samples and primer-dimer is not detected as there is only one such peak.", "x": -3.963, "y": -0.2891}]},
       "mark": {"type": "text", "font": "DejaVu Sans", "fontSize": 15.9, "color": "#222", "align": "left", "baseline": "middle"},
       "encoding": {"text": {"field": "t"}}}
    ]
  },
  {
    "width": 619, "height": 284,
    "encoding": {
      "x": {"field": "x", "type": "quantitative", "scale": {"domain": [49.65, 99.3], "nice": false, "zero": false},
            "axis": {"values": [50,55,60,65,70,75,80,85,90,95,98.5], "format": "d", "title": null, "labelExpr": "datum.value > 97 ? '°c' : datum.label", "labelAlign": {"condition": {"test": "datum.value > 97", "value": "center"}, "value": "left"}, "labelOffset": {"condition": {"test": "datum.value > 97", "value": 0}, "value": 2}, "tickOpacity": {"condition": {"test": "datum.value > 97", "value": 0}, "value": 1}, "gridOpacity": {"condition": {"test": "datum.value > 97", "value": 0}, "value": 1}}},
      "y": {"field": "y", "type": "quantitative", "scale": {"domain": [-0.0528, 0.587], "nice": false, "zero": false},
            "axis": {"values": [0,0.1,0.2,0.3,0.4,0.5], "format": "~g", "title": "dF/dT", "titleX": -36.5, "titleY": 2}}
    },
    "resolve": {"scale": {"color": "independent"}},
    "layer": [
      {"data": {"values": [
         {"k": "axis", "x": 49.65, "x2": 49.65, "y": 0.587, "y2": -0.109}]},
       "mark": {"type": "rule", "strokeWidth": 1.3, "color": "#111"},
       "encoding": {"x2": {"field": "x2"}, "y2": {"field": "y2"}}},
      {"data": {"values": [
         {"x":50.7,"lo":0.03,"hi":0.12},{"x":51.2,"lo":0.035,"hi":0.125},{"x":52,"lo":0.04,"hi":0.135},{"x":53,"lo":0.05,"hi":0.14},{"x":54,"lo":0.06,"hi":0.132},{"x":55,"lo":0.07,"hi":0.126},{"x":56,"lo":0.075,"hi":0.127},{"x":57,"lo":0.08,"hi":0.135},{"x":58,"lo":0.076,"hi":0.146},{"x":59,"lo":0.075,"hi":0.147},{"x":60,"lo":0.08,"hi":0.142},{"x":61,"lo":0.08,"hi":0.14},{"x":62,"lo":0.08,"hi":0.14},{"x":63,"lo":0.078,"hi":0.138},{"x":64,"lo":0.075,"hi":0.141},{"x":65,"lo":0.07,"hi":0.137},{"x":66,"lo":0.075,"hi":0.141},{"x":67,"lo":0.076,"hi":0.142},{"x":68,"lo":0.07,"hi":0.134},{"x":69,"lo":0.065,"hi":0.128},{"x":70,"lo":0.06,"hi":0.125},{"x":71,"lo":0.05,"hi":0.12},{"x":71.8,"lo":0.047,"hi":0.12},{"x":72.5,"lo":0.055,"hi":0.122},{"x":73.5,"lo":0.063,"hi":0.13},{"x":74.5,"lo":0.068,"hi":0.128},{"x":75.5,"lo":0.07,"hi":0.123},{"x":76.5,"lo":0.07,"hi":0.12},{"x":77.5,"lo":0.068,"hi":0.121},{"x":78.5,"lo":0.063,"hi":0.117},{"x":79.5,"lo":0.058,"hi":0.112},{"x":80.5,"lo":0.055,"hi":0.11},{"x":81.3,"lo":0.06,"hi":0.11},{"x":81.9,"lo":0.066,"hi":0.114},{"x":82.5,"lo":0.072,"hi":0.15},{"x":83.1,"lo":0.076,"hi":0.233},{"x":83.5,"lo":0.079,"hi":0.3},{"x":84,"lo":0.12,"hi":0.383},{"x":84.5,"lo":0.233,"hi":0.45},{"x":84.9,"lo":0.3,"hi":0.505},{"x":85.2,"lo":0.345,"hi":0.53},{"x":85.5,"lo":0.38,"hi":0.537},{"x":85.8,"lo":0.37,"hi":0.527},{"x":86.2,"lo":0.29,"hi":0.48},{"x":86.5,"lo":0.21,"hi":0.43},{"x":86.9,"lo":0.083,"hi":0.383},{"x":87.3,"lo":0.03,"hi":0.31},{"x":87.7,"lo":0,"hi":0.233},{"x":88,"lo":-0.015,"hi":0.17},{"x":88.3,"lo":-0.02,"hi":0.1},{"x":88.7,"lo":-0.022,"hi":0.06},{"x":89.2,"lo":-0.024,"hi":0.045},{"x":90,"lo":-0.024,"hi":0.043},{"x":92,"lo":-0.024,"hi":0.042},{"x":94,"lo":-0.026,"hi":0.04},{"x":96,"lo":-0.026,"hi":0.038},{"x":98.3,"lo":-0.027,"hi":0.035}]},
       "mark": {"type": "area", "color": "#7b1fee", "stroke": "#7b1fee", "strokeWidth": 1, "opacity": 1},
       "encoding": {"y": {"field": "lo", "type": "quantitative", "scale": {"domain": [-0.0528, 0.587], "nice": false, "zero": false}}, "y2": {"field": "hi"}}},
      {"data": {"values": [
         {"s":"dr1","x":51,"y":0},{"s":"dr1","x":52,"y":0.012},{"s":"dr1","x":52.8,"y":0.019},{"s":"dr1","x":54.5,"y":0.022},{"s":"dr1","x":55.9,"y":0.023},{"s":"dr1","x":57.6,"y":0.024},{"s":"dr1","x":59,"y":0.02},{"s":"dr1","x":60,"y":0.015},{"s":"dr1","x":61,"y":0.019},{"s":"dr1","x":62,"y":0.023},{"s":"dr1","x":63,"y":0.018},{"s":"dr1","x":64.1,"y":0.011},{"s":"dr1","x":65.5,"y":0.018},{"s":"dr1","x":67.2,"y":0.024},{"s":"dr1","x":68.5,"y":0.022},{"s":"dr1","x":69.7,"y":0.019},{"s":"dr1","x":71.5,"y":0.016},{"s":"dr1","x":73.1,"y":0.013},{"s":"dr1","x":75,"y":0.011},{"s":"dr1","x":76.6,"y":0.009},{"s":"dr1","x":78,"y":0.01},{"s":"dr1","x":80,"y":0.011},{"s":"dr1","x":82,"y":0.013},{"s":"dr1","x":83.4,"y":0.015},{"s":"dr1","x":86,"y":0.013},{"s":"dr1","x":88.6,"y":0.011},{"s":"dr1","x":92,"y":0.01},{"s":"dr1","x":95,"y":0.009},{"s":"dr1","x":98.3,"y":0.008},
         {"s":"dr2","x":51.5,"y":0.003},{"s":"dr2","x":53,"y":0.015},{"s":"dr2","x":54.5,"y":0.02},{"s":"dr2","x":56,"y":0.021},{"s":"dr2","x":58,"y":0.018},{"s":"dr2","x":59.5,"y":0.012},{"s":"dr2","x":61,"y":0.019},{"s":"dr2","x":63,"y":0.022},{"s":"dr2","x":65,"y":0.017},{"s":"dr2","x":67,"y":0.02},{"s":"dr2","x":70,"y":0.014},{"s":"dr2","x":73,"y":0.009},{"s":"dr2","x":76,"y":0.012},{"s":"dr2","x":78,"y":0.006},{"s":"dr2","x":79.5,"y":0.002},{"s":"dr2","x":81,"y":-0.002},{"s":"dr2","x":82.5,"y":0.008},{"s":"dr2","x":85,"y":0.012},{"s":"dr2","x":88,"y":0.01},{"s":"dr2","x":90,"y":0.011},{"s":"dr2","x":94,"y":0.01},{"s":"dr2","x":98.3,"y":0.012},
         {"s":"dc1","x":51.5,"y":0.004},{"s":"dc1","x":53,"y":0.018},{"s":"dc1","x":55,"y":0.02},{"s":"dc1","x":57,"y":0.024},{"s":"dc1","x":58.5,"y":0.027},{"s":"dc1","x":60,"y":0.022},{"s":"dc1","x":62.5,"y":0.018},{"s":"dc1","x":65,"y":0.015},{"s":"dc1","x":67.5,"y":0.018},{"s":"dc1","x":70,"y":0.012},{"s":"dc1","x":72.5,"y":0.01},{"s":"dc1","x":75,"y":0.011},{"s":"dc1","x":78,"y":0.016},{"s":"dc1","x":80,"y":0.013},{"s":"dc1","x":82.5,"y":0.01},{"s":"dc1","x":85,"y":0.015},{"s":"dc1","x":88,"y":0.012},
         {"s":"dc2","x":52,"y":0},{"s":"dc2","x":55,"y":0.005},{"s":"dc2","x":58,"y":0.003},{"s":"dc2","x":62,"y":0},{"s":"dc2","x":66,"y":0.002},{"s":"dc2","x":70,"y":-0.002},{"s":"dc2","x":73,"y":-0.004},{"s":"dc2","x":75,"y":-0.006},{"s":"dc2","x":77,"y":-0.003},{"s":"dc2","x":80,"y":0},{"s":"dc2","x":83,"y":-0.003},{"s":"dc2","x":86,"y":-0.002},{"s":"dc2","x":88,"y":0}]},
       "mark": {"type": "line", "strokeWidth": 1.2, "interpolate": "monotone"},
       "encoding": {"detail": {"field": "s"}, "color": {"field": "s", "type": "nominal", "scale": {"domain": ["dc1","dc2","dr1","dr2"], "range": ["#9edbea","#9edbea","#c8322c","#c8322c"]}, "legend": null}}},
      {"data": {"values": [{"x": 49.65, "x2": 98.3, "y": 0}]},
       "mark": {"type": "rule", "strokeWidth": 1.3, "color": "#2a4ab0"},
       "encoding": {"x2": {"field": "x2"}}},
      {"data": {"values": [{"t": "Threshold", "x": 49.83, "y": -0.0167}]},
       "mark": {"type": "text", "fontSize": 12, "color": "#111", "align": "left", "baseline": "middle"},
       "encoding": {"text": {"field": "t"}}},
      {"data": {"values": [{"t": "D", "x": 46.14, "y": 0.628}]},
       "mark": {"type": "text", "fontSize": 18, "fontWeight": "bold", "color": "#000", "align": "left", "baseline": "middle"},
       "encoding": {"text": {"field": "t"}}}
    ]
  }
]}
]
}
